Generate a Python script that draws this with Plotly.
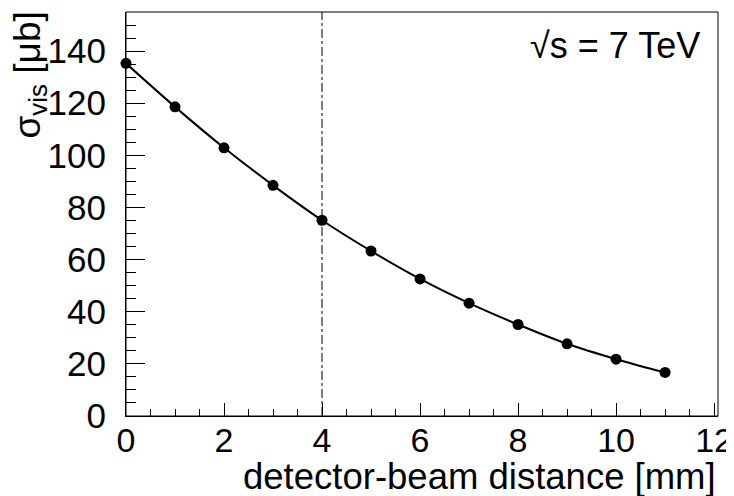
import plotly.graph_objects as go

distance_mm = [0, 1, 2, 3, 4, 5, 6, 7, 8, 9, 10, 11]
sigma_vis_ub = [135.3, 118.6, 102.9, 88.5, 75.1, 63.3, 52.6, 43.3, 35.1, 27.7, 21.8, 16.7]
x_ticks = [0, 2, 4, 6, 8, 10, 12]
y_ticks = [0, 20, 40, 60, 80, 100, 120, 140]
ref_distance = 4

XMAX = 12.08
YMAX = 155

font = "Liberation Sans, Arial, Helvetica, sans-serif"

fig = go.Figure()
fig.add_trace(go.Scatter(
    x=distance_mm, y=sigma_vis_ub, mode="lines+markers",
    line=dict(color="black", width=2, shape="spline"),
    marker=dict(color="black", size=11),
    showlegend=False, cliponaxis=False,
))

fig.add_shape(type="line", x0=ref_distance, x1=ref_distance, y0=0, y1=YMAX,
              xref="x", yref="y", line=dict(color="black", width=1, dash="dashdot"))
fig.add_shape(type="rect", x0=0, x1=1, y0=0, y1=1, xref="paper", yref="paper",
              line=dict(color="black", width=1), fillcolor="rgba(0,0,0,0)")

# page body has an 8px default margin, so size the figure to fit the window
fig.update_layout(
    width=726, height=488,
    margin=dict(l=118, r=16, t=4, b=80),
    paper_bgcolor="white", plot_bgcolor="white",
    font=dict(family=font, color="black", size=35),
)
fig.update_xaxes(
    range=[0, XMAX], tickvals=x_ticks, showgrid=False, zeroline=False,
    showline=True, linecolor="black", linewidth=1, mirror=False, automargin=False,
    ticks="inside", ticklen=13, tickwidth=1, tickcolor="black",
    minor=dict(ticks="inside", ticklen=7, dtick=0.5, tick0=0, tickcolor="black", tickwidth=1, showgrid=False),
    tickfont=dict(size=34), ticklabelstandoff=-6,
)
fig.update_yaxes(
    range=[0, YMAX], tickvals=y_ticks, showgrid=False, zeroline=False,
    showline=True, linecolor="black", linewidth=1, mirror=False, automargin=False,
    ticks="inside", ticklen=19, tickwidth=1, tickcolor="black",
    minor=dict(ticks="inside", ticklen=10, dtick=5, tick0=0, tickcolor="black", tickwidth=1, showgrid=False),
    tickfont=dict(size=35), ticklabelstandoff=12,
)

fig.add_annotation(text="detector-beam distance [mm]", xref="paper", yref="paper",
                   x=1.0, y=0, yshift=-38, xanchor="right", yanchor="top",
                   showarrow=False, font=dict(size=36.5))
fig.add_annotation(text="σ<sub>vis</sub> [μb]", xref="paper", yref="paper",
                   x=0, xshift=-97, y=1.0, yshift=2, xanchor="center", yanchor="top",
                   textangle=-90, showarrow=False, font=dict(size=37))
fig.add_annotation(text="√s = 7 TeV", xref="paper", yref="paper",
                   x=1.0, xshift=-16, y=1.0, yshift=-11, xanchor="right", yanchor="top",
                   showarrow=False, font=dict(size=36))

fig.write_html("out.html")
